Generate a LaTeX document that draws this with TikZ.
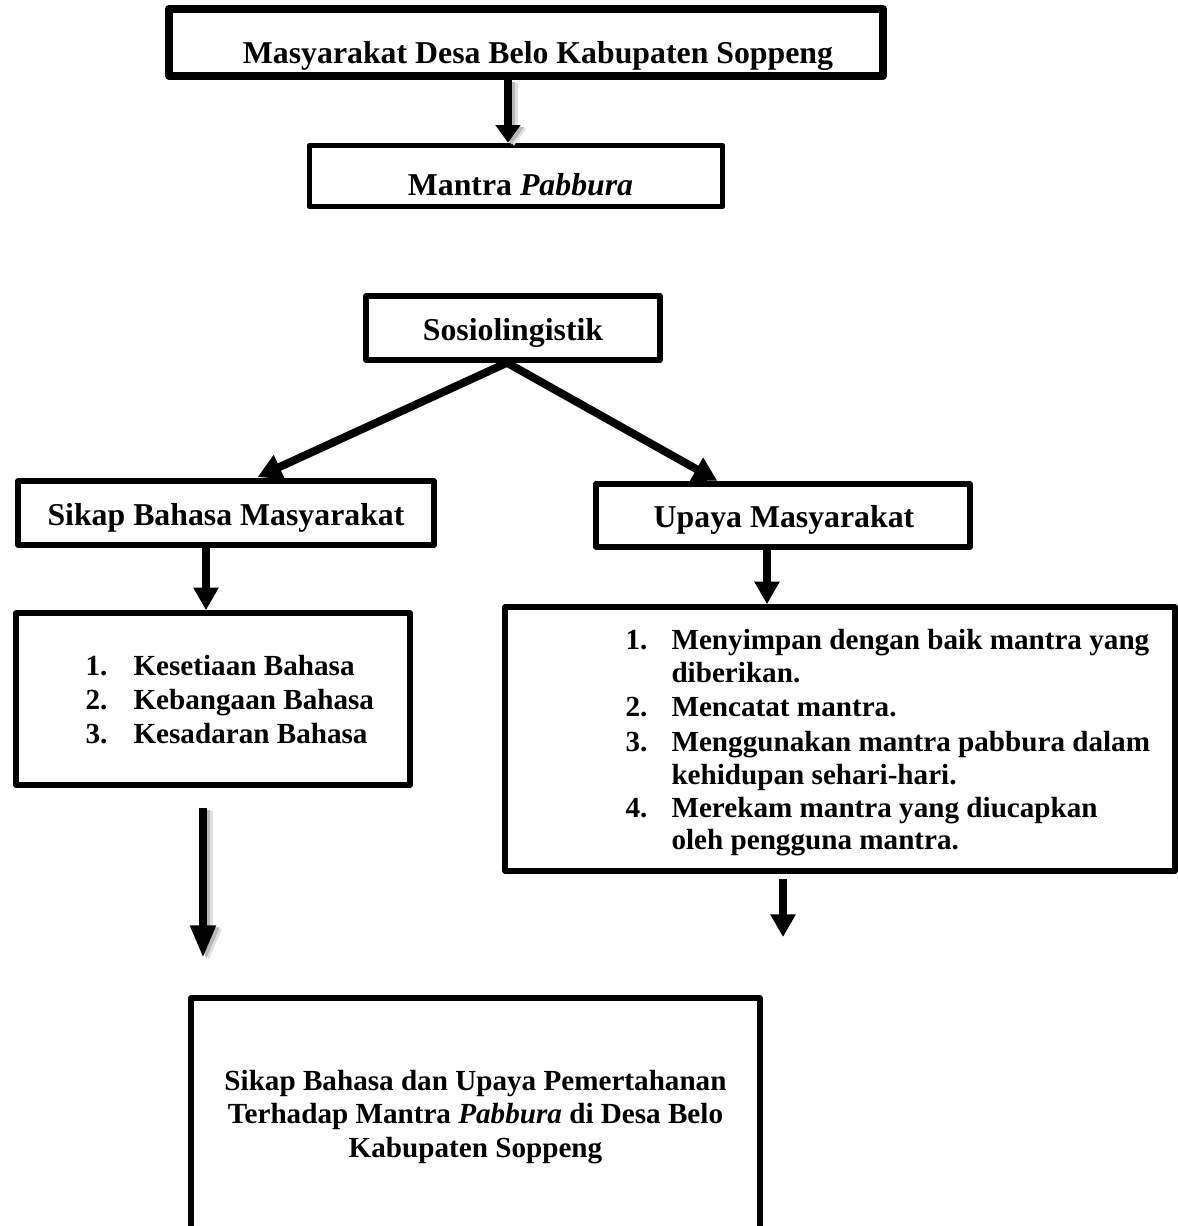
\documentclass[tikz,border=0pt]{standalone}
\usepackage{fontspec}
\setmainfont{Liberation Serif}
\usetikzlibrary{arrows.meta,fit}
\begin{document}
\begin{tikzpicture}[x=0.3774pt,y=-0.3774pt,
  box/.style={draw=black,line width=2.1pt,line join=round,inner sep=0pt},
  bigbox/.style={box,line width=3.0pt},
  head/.style={font=\fontsize{12}{13.8}\selectfont\bfseries,inner sep=0pt,anchor=base},
  item/.style={font=\fontsize{11}{12.65}\selectfont\bfseries,inner sep=0pt,anchor=base west},
  fin/.style={font=\fontsize{11}{12.65}\selectfont\bfseries,inner sep=0pt,anchor=base},
  arr/.style={line width=3.0pt,-{Triangle[width=9pt,length=8.5pt]}},
  arrshort/.style={line width=3.0pt,-{Triangle[width=9pt,length=6.6pt]}},
  arrlong/.style={line width=3.0pt,-{Triangle[width=9pt,length=12.3pt]}},
  darr/.style={line width=3.0pt,line join=miter,{Triangle[width=9.5pt,length=9pt]}-{Triangle[width=9.5pt,length=9pt]}},
  shA/.style={draw=black!12,transform canvas={xshift=2.2pt,yshift=-1.2pt}},
  shB/.style={draw=black!28,transform canvas={xshift=1.3pt,yshift=-0.7pt}}
]
\useasboundingbox (0,0) rectangle (1178,1226);
\clip (0,0) rectangle (1178,1226);

% boxes
\node[bigbox,fit={(169,9)(883,76)}] (T) {};
\node[box,fit={(309.5,145.5)(722.5,206.5)}] (M) {};
\node[box,fit={(366,296)(660,360)}] (S) {};
\node[box,fit={(18,481)(434,545)}] (SB) {};
\node[box,fit={(596,484)(970,547)}] (U) {};
\node[box,fit={(16,613)(410,785)}] (L) {};
\node[box,fit={(505,607)(1175,871)}] (R) {};
\node[box,fit={(191,998)(760,1300)}] (F) {};

% texts
\node[head] (tT) at (538,63) {Masyarakat Desa Belo Kabupaten Soppeng};
\node[head] (tM) at (520.5,195) {Mantra \textit{Pabbura}};
\node[head] (tS) at (513,340) {Sosiolingistik};
\node[head] (tSB) at (226,525) {Sikap Bahasa Masyarakat};
\node[head] (tU) at (784,527) {Upaya Masyarakat};

\node[item] (ln1) at (85,675) {1.};
\node[item] (lt1) at (133,675) {Kesetiaan Bahasa};
\node[item] (ln2) at (85,709) {2.};
\node[item] (lt2) at (133,709) {Kebangaan Bahasa};
\node[item] (ln3) at (85,743) {3.};
\node[item] (lt3) at (133,743) {Kesadaran Bahasa};

\node[item] (rn1) at (625,649) {1.};
\node[item] (rt1) at (671,649) {Menyimpan dengan baik mantra yang};
\node[item] (rt1b) at (671,682) {diberikan.};
\node[item] (rn2) at (625,716) {2.};
\node[item] (rt2) at (671,716) {Mencatat mantra.};
\node[item] (rn3) at (625,751) {3.};
\node[item] (rt3) at (671,751) {Menggunakan mantra pabbura dalam};
\node[item] (rt3b) at (671,784) {kehidupan sehari-hari.};
\node[item] (rn4) at (625,817) {4.};
\node[item] (rt4) at (671,817) {Merekam mantra yang diucapkan};
\node[item] (rt4b) at (671,849) {oleh pengguna mantra.};

\node[fin] (f1) at (475.5,1090) {Sikap Bahasa dan Upaya Pemertahanan};
\node[fin] (f2) at (475.5,1123) {Terhadap Mantra \textit{Pabbura} di Desa Belo};
\node[fin] (f3) at (475.5,1157) {Kabupaten Soppeng};

% arrow positions
\coordinate (a1) at (508,0);
\coordinate (ap) at (507,0);
\coordinate (lt) at (255,0);
\coordinate (rt) at (718,0);
\coordinate (b1) at (206,0);
\coordinate (b2) at (767,0);
\coordinate (c2) at (203,958);
\coordinate (d2) at (783,937);

% shadows
\draw[arrshort,shA] (T.south -| a1) -- (M.north -| a1);
\draw[arrshort,shB] (T.south -| a1) -- (M.north -| a1);
\draw[arrlong,shorten <=7.5pt,shA] (L.south -| c2) -- (c2);
\draw[arrlong,shorten <=7.5pt,shB] (L.south -| c2) -- (c2);

% arrows
\draw[arrshort] (T.south -| a1) -- (M.north -| a1);
\draw[darr,shorten <=1.1pt,shorten >=0.3pt] (SB.north -| lt) -- (S.south -| ap) -- (U.north -| rt);
\draw[arr] (SB.south -| b1) -- (L.north -| b1);
\draw[arr] (U.south -| b2) -- (R.north -| b2);
\draw[arrlong,shorten <=7.5pt] (L.south -| c2) -- (c2);
\draw[arr,shorten <=1.9pt] (R.south -| d2) -- (d2);
\end{tikzpicture}
\end{document}
